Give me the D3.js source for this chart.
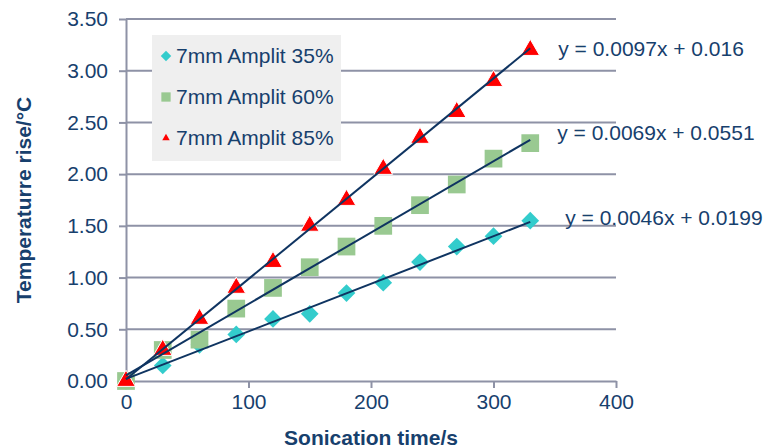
<!DOCTYPE html>
<html>
<head>
<meta charset="utf-8">
<script src="https://cdn.jsdelivr.net/npm/d3@7"></script>
<style>
  body { margin: 0; background: #fff; }
  text { font-family: "Liberation Sans", Arial, sans-serif; fill: #17406d; }
</style>
</head>
<body>
<div class="chartDiv"></div>
<script>
var times = [0, 30, 60, 90, 120, 150, 180, 210, 240, 270, 300, 330];
var amp35 = [0, 0.15, 0.35, 0.45, 0.6, 0.65, 0.85, 0.95, 1.15, 1.3, 1.4, 1.55];
var amp60 = [0, 0.3, 0.4, 0.7, 0.9, 1.1, 1.3, 1.5, 1.7, 1.9, 2.15, 2.3];
var amp85 = [0, 0.3, 0.6, 0.9, 1.15, 1.5, 1.75, 2.05, 2.35, 2.6, 2.9, 3.2];
var seriesNames = ["7mm Amplit 35%", "7mm Amplit 60%", "7mm Amplit 85%"];
var slopes = [0.0046, 0.0069, 0.0097];
var intercepts = [0.0199, 0.0551, 0.016];
var eqLabels = ["y = 0.0046x + 0.0199", "y = 0.0069x + 0.0551", "y = 0.0097x + 0.016"];
var xTicks = [0, 100, 200, 300, 400];
var yTicks = [0, 0.5, 1, 1.5, 2, 2.5, 3, 3.5];

var width = 764, height = 448;
var margin = { top: 19, right: 148, bottom: 67, left: 126 };
var gridColor = "#8e92a6";
var lineColor = "#0f3461";

var svg = d3.select(".chartDiv").append("svg")
    .attr("width", width)
    .attr("height", height);

var x = d3.scaleLinear().domain([0, 400]).range([margin.left, width - margin.right]);
var y = d3.scaleLinear().domain([0, 3.5]).range([height - margin.bottom, margin.top]);

// horizontal grid
svg.append("g").selectAll("line")
  .data(yTicks.filter(function(d) { return d > 0; }))
  .enter().append("line")
    .attr("x1", x(0)).attr("x2", x(400))
    .attr("y1", function(d) { return y(d); })
    .attr("y2", function(d) { return y(d); })
    .attr("stroke", gridColor).attr("stroke-width", 2);

// axes
var xAxis = svg.append("g")
    .attr("transform", "translate(0," + y(0) + ")")
    .call(d3.axisBottom(x).tickValues(xTicks).tickSize(7).tickSizeOuter(0).tickPadding(6)
      .tickFormat(d3.format("d")));
var yAxis = svg.append("g")
    .attr("transform", "translate(" + x(0) + ",0)")
    .call(d3.axisLeft(y).tickValues(yTicks).tickSize(7).tickSizeOuter(0).tickPadding(11)
      .tickFormat(d3.format(".2f")));
[xAxis, yAxis].forEach(function(a) {
  a.select(".domain").attr("stroke", gridColor).attr("stroke-width", 2);
  a.selectAll(".tick line").attr("stroke", gridColor).attr("stroke-width", 2);
  a.selectAll(".tick text").style("font-size", "21px").attr("fill", "#17406d");
});

// axis titles
svg.append("text")
    .attr("x", x(200)).attr("y", 445)
    .attr("text-anchor", "middle")
    .style("font-size", "21px").style("font-weight", "bold")
    .text("Sonication time/s");
svg.append("text")
    .attr("transform", "translate(31," + y(1.75) + ") rotate(-90)")
    .attr("text-anchor", "middle")
    .style("font-size", "21px").style("font-weight", "bold")
    .text("Temperaturre rise/°C");

// markers
var symbols = [d3.symbolDiamond2, d3.symbolSquare2, d3.symbolTriangle2];
var colors = ["#33cccc", "#99c991", "#ff0000"];
var sizes = [200, 400, 250];
var allSeries = [amp35, amp60, amp85];

allSeries.forEach(function(vals, i) {
  svg.append("g").selectAll("path")
    .data(vals)
    .enter().append("path")
      .attr("transform", function(d, j) { return "translate(" + x(times[j]) + "," + y(d) + ")"; })
      .attr("d", d3.symbol().type(symbols[i]).size(sizes[i]))
      .attr("fill", colors[i])
      .attr("stroke", i == 2 ? "#fff" : "none")
      .attr("stroke-width", 1);
});

// trend lines
var tEnd = d3.max(times);
allSeries.forEach(function(vals, i) {
  svg.append("line")
    .attr("x1", x(0)).attr("y1", y(intercepts[i]))
    .attr("x2", x(tEnd)).attr("y2", y(slopes[i] * tEnd + intercepts[i]))
    .attr("stroke", lineColor).attr("stroke-width", 2);
});

// equation labels
var eqOffsets = [[35, -4], [27, -7], [28, 0]];
eqLabels.forEach(function(t, i) {
  svg.append("text")
    .attr("x", x(tEnd) + eqOffsets[i][0])
    .attr("y", y(slopes[i] * tEnd + intercepts[i]) + eqOffsets[i][1])
    .attr("dy", "0.35em")
    .style("font-size", "21px")
    .text(t);
});

// legend
var legend = svg.append("g").attr("transform", "translate(152,35)");
legend.append("rect")
    .attr("width", 189).attr("height", 126)
    .attr("fill", "#efefef");
var legendSizes = [70, 110, 40];
seriesNames.forEach(function(name, i) {
  var row = legend.append("g").attr("transform", "translate(14," + (21 + i * 41) + ")");
  row.append("path")
    .attr("d", d3.symbol().type(symbols[i]).size(legendSizes[i]))
    .attr("fill", colors[i]);
  row.append("text")
    .attr("x", 10).attr("dy", "0.35em")
    .style("font-size", "21px")
    .text(name);
});
</script>
</body>
</html>
